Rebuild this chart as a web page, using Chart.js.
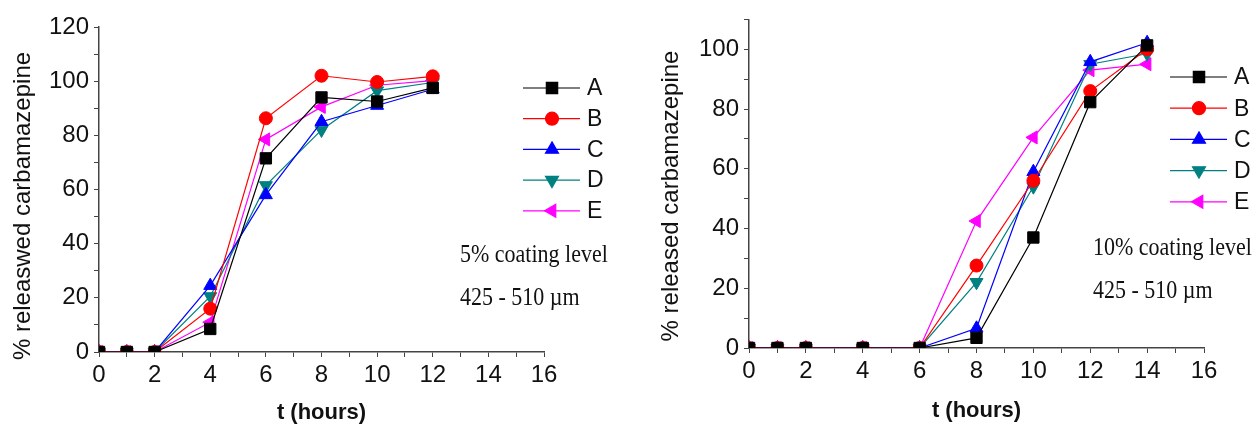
<!DOCTYPE html>
<html>
<head>
<meta charset="utf-8">
<script src="https://cdn.jsdelivr.net/npm/chart.js@4/dist/chart.umd.min.js"></script>
<style>
  body { margin: 0; background: #fff; }
  .panel { position: absolute; top: 0; width: 630px; height: 426px; }
</style>
</head>
<body>
<div class="panel" style="left:0"><canvas id="left" width="630" height="426"></canvas></div>
<div class="panel" style="left:630px"><canvas id="right" width="630" height="426"></canvas></div>
<script>
// Setup
const SERIES = ['A', 'B', 'C', 'D', 'E']

// 5% coating level
const hours5 = [0, 1, 2, 4, 6, 8, 10, 12]
const a5 = [0, 0, 0, 8.5, 71.5, 94, 92.5, 97.5]
const b5 = [0, 0, 0, 16, 86.3, 102, 99.7, 101.8]
const c5 = [0, 0, 0, 24.5, 58, 85, 91, 97]
const d5 = [0, 0, 0, 20.5, 61.5, 82, 96.5, 99.5]
const e5 = [0, 0, 0, 11, 78.5, 90.5, 98.5, 100.2]

// 10% coating level
const hours10 = [0, 1, 2, 4, 6, 8, 10, 12, 14]
const a10 = [0, 0, 0, 0, 0, 3.4, 37, 82.3, 101.3]
const b10 = [0, 0, 0, 0, 0, 27.6, 56, 86, 100]
const c10 = [0, 0, 0, 0, 0, 6.6, 59, 95.8, 102.2]
const d10 = [0, 0, 0, 0, 0, 22, 54, 95, 98.5]
const e10 = [0, 0, 0, 0, 0, 42.5, 70.5, 93, 95]

const COLORS = ['#000000', '#ff0000', '#0000ff', '#008080', '#ff00ff']
const STYLES = [
    {pointStyle: 'rect', radius: 8, rotation: 0},
    {pointStyle: 'circle', radius: 6.5, rotation: 0},
    {pointStyle: 'triangle', radius: 7.5, rotation: 0},
    {pointStyle: 'triangle', radius: 7.5, rotation: 180},
    {pointStyle: 'triangle', radius: 7.5, rotation: -90},
]

const SANS = "'Liberation Sans', Arial, sans-serif"
const AXIS = '#444'

function makeDatasets(hours, rows) {
    return rows.map((vals, i) => ({
        label: SERIES[i],
        data: vals.map((v, j) => ({x: hours[j], y: v})),
        borderColor: COLORS[i],
        backgroundColor: COLORS[i],
        borderWidth: 1.2,
        tension: 0,
        pointStyle: STYLES[i].pointStyle,
        pointRadius: STYLES[i].radius,
        pointRotation: STYLES[i].rotation,
        pointBorderWidth: 1,
        pointBorderColor: COLORS[i],
        pointBackgroundColor: COLORS[i],
    }))
}

// legend with line + marker, the two notes, and the y title (sits a bit low in the original)
const sideLegend = {
    id: 'sideLegend',
    afterDraw(chart, args, opts) {
        const ctx = chart.ctx
        chart.data.datasets.forEach((ds, i) => {
            const y = opts.y + i * opts.gap
            ctx.save()
            ctx.strokeStyle = ds.borderColor
            ctx.lineWidth = 1.2
            ctx.beginPath()
            ctx.moveTo(opts.x, y)
            ctx.lineTo(opts.x + 57, y)
            ctx.stroke()
            ctx.fillStyle = ds.backgroundColor
            Chart.helpers.drawPoint(ctx, {
                pointStyle: ds.pointStyle,
                radius: ds.pointRadius,
                rotation: ds.pointRotation,
                borderWidth: 1
            }, opts.x + 29, y)
            ctx.fillStyle = '#111'
            ctx.font = '23px ' + SANS
            ctx.textBaseline = 'middle'
            ctx.textAlign = 'left'
            ctx.fillText(ds.label, opts.x + 64, y + 1)
            ctx.restore()
        })
        ctx.save()
        ctx.fillStyle = '#111'
        ctx.font = "22px 'Liberation Serif', 'Times New Roman', serif"
        ctx.textBaseline = 'alphabetic'
        opts.notes.forEach(n => {
            ctx.save()
            ctx.translate(n.x, n.y)
            ctx.scale(1, 1.15)
            ctx.fillText(n.text, 0, 0)
            ctx.restore()
        })
        ctx.restore()

        const t = opts.yTitle
        ctx.save()
        ctx.translate(t.x, t.y)
        ctx.rotate(-Math.PI / 2)
        ctx.fillStyle = '#111'
        ctx.font = '24px ' + SANS
        ctx.textAlign = 'center'
        ctx.textBaseline = 'middle'
        ctx.fillText(t.text, 0, 0)
        ctx.restore()
    }
}

function makeConfig(hours, rows, o) {
    return {
        type: 'line',
        data: {datasets: makeDatasets(hours, rows)},
        options: {
            responsive: false,
            animation: false,
            layout: {padding: {left: 0, right: o.padRight, top: o.padTop, bottom: 0}},
            plugins: {
                legend: {display: false},
                tooltip: {enabled: false},
                sideLegend: o.legend,
            },
            scales: {
                x: {
                    type: 'linear',
                    min: 0,
                    max: 16,
                    afterFit: s => { s.height = o.xHeight },
                    ticks: {
                        stepSize: 1,
                        autoSkip: false,
                        maxRotation: 0,
                        padding: 4,
                        color: '#111',
                        font: {size: 24, family: SANS},
                        callback: v => (v % 2 === 0 ? v : ''),
                    },
                    grid: {drawOnChartArea: false, drawTicks: true, tickLength: 5, color: AXIS},
                    border: {display: true, color: AXIS, width: 1.5},
                    title: {
                        display: true,
                        text: 't (hours)',
                        color: '#111',
                        font: {size: 22, weight: 'bold', family: SANS},
                        padding: {top: 0, bottom: o.xTitlePad},
                    },
                },
                y: {
                    min: 0,
                    max: o.yMax,
                    afterFit: s => { s.width = o.yWidth },
                    ticks: {
                        stepSize: 10,
                        autoSkip: false,
                        padding: 5,
                        color: '#111',
                        font: {size: 24, family: SANS},
                        callback: v => (v % 20 === 0 ? v : ''),
                    },
                    grid: {drawOnChartArea: false, drawTicks: true, tickLength: 5, color: AXIS},
                    border: {display: true, color: AXIS, width: 1.5},
                },
            },
        },
        plugins: [sideLegend],
    }
}

// Action
const leftChart = new Chart(
    document.getElementById('left'),
    makeConfig(hours5, [a5, b5, c5, d5, e5], {
        yMax: 120,
        padTop: 27,
        padRight: 86,
        yWidth: 99,
        xHeight: 74,
        xTitlePad: 0,
        legend: {
            x: 523, y: 88, gap: 30.7,
            notes: [
                {text: '5% coating level', x: 460, y: 262},
                {text: '425 - 510 \u00b5m', x: 460, y: 305},
            ],
            yTitle: {text: '% releaswed carbamazepine', x: 23, y: 206},
        },
    })
)

const rightChart = new Chart(
    document.getElementById('right'),
    makeConfig(hours10, [a10, b10, c10, d10, e10], {
        yMax: 110,
        padTop: 16,
        padRight: 56,
        yWidth: 119,
        xHeight: 78,
        xTitlePad: 2,
        legend: {
            x: 540, y: 77, gap: 31.2,
            notes: [
                {text: '10% coating level', x: 463, y: 255},
                {text: '425 - 510 \u00b5m', x: 463, y: 298},
            ],
            yTitle: {text: '% released carbamazepine', x: 41, y: 196},
        },
    })
)
</script>
</body>
</html>
